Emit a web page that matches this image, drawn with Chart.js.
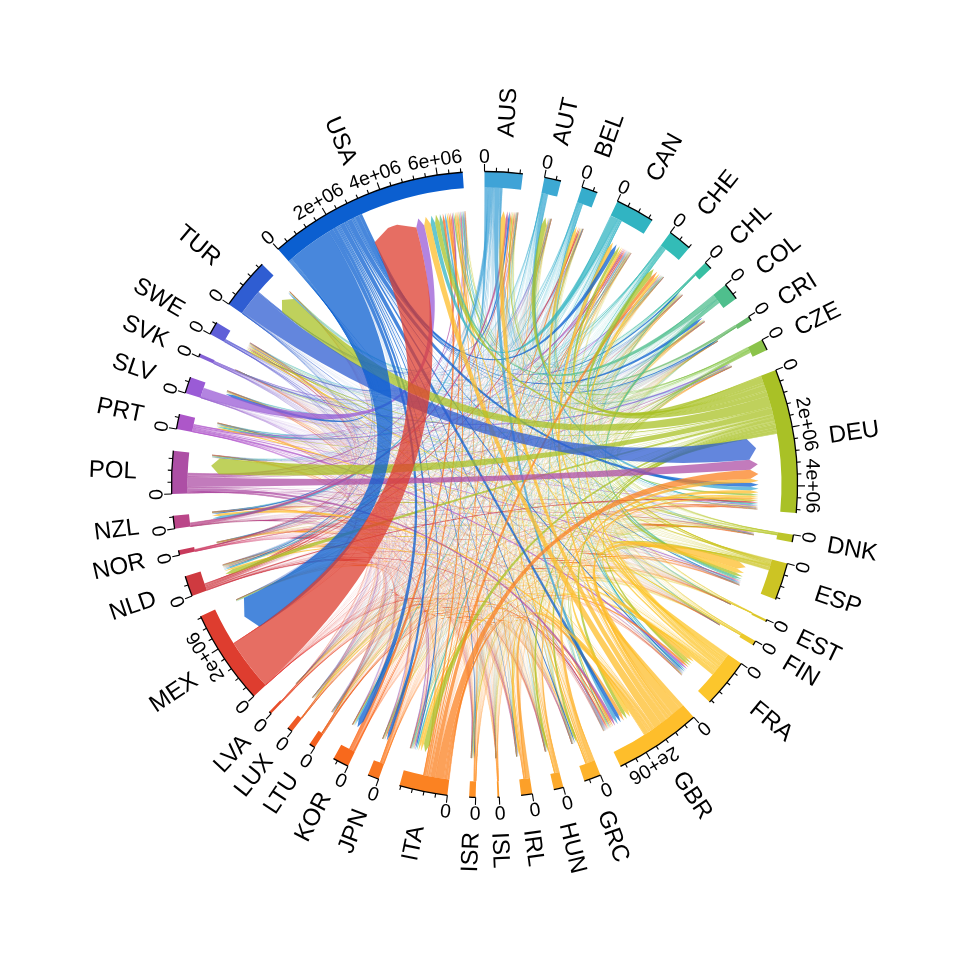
<!DOCTYPE html>
<html>
<head>
<meta charset="utf-8">
<title>Chord diagram</title>
<style>html,body{margin:0;padding:0;background:#fff}canvas{display:block}</style>
<script src="https://cdn.jsdelivr.net/npm/chart.js@4/dist/chart.umd.js"></script>
</head>
<body>
<canvas id="c" width="969" height="969"></canvas>
<script>
const categories = ['AUS','AUT','BEL','CAN','CHE','CHL','COL','CRI','CZE','DEU','DNK','ESP','EST','FIN','FRA','GBR','GRC','HUN','IRL','ISL','ISR','ITA','JPN','KOR','LTU','LUX','LVA','MEX','NLD','NOR','NZL','POL','PRT','SLV','SVK','SWE','TUR','USA'];
const sectorColors = ['#3FA3D7','#3DA9D3','#36ADCC','#31B4C2','#33BCB7','#38BFA3','#4FBF8D','#6DBE70','#8BC34A','#A9C126','#BDC52A','#CCC424','#DCC72A','#ECC92B','#FCC62C','#FEBE2B','#FDB32B','#FCA92B','#FCA029','#FC9929','#FD9027','#FB8222','#F97720','#F8691C','#F25F1E','#EE5A26','#E84D2A','#DE3D2F','#CF3A40','#C83A5C','#BA4689','#AD4FA5','#AD57C9','#9A5BD6','#8461D6','#5F5FD8','#2F5DD2','#0B5FD0'];
// thousands of people, read from the ring
const outTotals = [640,240,220,440,220,75,350,90,220,2140,110,400,37,90,915,1740,340,183,220,37,75,935,145,220,75,37,46,1885,255,75,130,730,275,365,90,110,970,3110];
const inTotals  = [660,330,330,900,600,200,240,75,165,2780,145,880,40,75,770,1245,240,150,165,25,145,715,240,330,130,145,45,1370,455,90,310,735,240,200,30,345,790,3755];
const tickStep = 400, majorStep = 2000;
const tickLabels = ['0','2e+06','4e+06','6e+06'];
// source row -> destination column, same order as categories
const flows = [
[0,3,3,16,6,3,1,.5,1,18,2,6,.5,1,12,125,10,1,9,.5,5,8,10,18,.5,1,.5,3,8,2,90,2,3,.5,.5,4,6,80],
[5,0,2,6,22,1,1,.5,3,125,1,4,.5,1,3,10,1,2,1,.5,3,3,1,1,.5,1,.5,1,2,1,1,2,1,.5,1,3,6,22],
[3,1,0,7,8,1,1,.5,1,24,1,30,.5,1,70,12,2,1,1,.5,6,5,1,1,.5,8,.5,2,28,1,1,2,3,.5,.5,2,5,18],
[14,1,2,0,5,2,1,1,1,5,1,3,.5,1,14,30,4,1,2,.5,8,5,5,18,.5,.5,.5,12,2,1,3,3,6,1,.5,1,3,190],
[4,6,3,4,0,1,1,.5,1,38,1,14,.5,1,50,8,1,1,1,.5,4,28,1,1,.5,1,.5,1,2,1,1,1,25,.5,.5,1,5,22],
[5,1,1,6,3,0,2,1,.3,4,1,14,.3,.3,4,2,.3,.3,.3,.2,1,1,.3,.3,.2,.2,.2,2,.5,1,1,.3,.3,.3,.2,8,.3,28],
[6,1,2,16,3,5,0,3,.3,3,.5,100,.2,.3,6,6,.3,.3,.3,.2,1,4,1,.5,.2,.2,.2,8,2,1,.5,.3,.5,.5,.2,2,.3,140],
[1,.5,.5,3,1,.5,1,0,.2,2,.2,2,.1,.2,1,1,.2,.2,.2,.1,.5,1,.2,.2,.1,.1,.1,3,.5,.2,.2,.2,.2,1,.1,.5,.2,60],
[5,28,2,7,10,.5,.5,.3,0,70,2,2,.3,1,4,30,1,1,4,.3,1,3,1,1,.3,1,.3,1,2,2,1,2,1,.3,28,3,1,22],
[50,210,25,80,260,5,2,3,25,0,22,120,1,4,100,130,60,50,10,1,25,110,10,10,2,15,1,8,100,12,8,240,22,1,5,35,430,190],
[4,1,1,3,3,.5,.5,.3,.5,18,0,5,.3,1,3,10,1,.5,1,1,1,1,.5,.5,.3,.3,.3,.5,2,13,1,2,.5,.3,.3,22,1,14],
[4,2,9,6,24,7,8,1,1,60,2,0,.5,1,110,50,1,1,3,.5,1,14,1,1,.5,2,.5,8,7,2,1,1,7,1,.5,4,1,42],
[1,.2,.2,1,.2,.1,.1,.1,.1,2,.2,.2,0,18,.2,3,.1,.1,1,.1,.1,.2,.1,.1,1,.1,1,.1,.2,1,.1,.2,.1,.1,.1,4,.1,2],
[1,1,.3,1,1,.2,.2,.1,.2,6,1,2,2,0,1,4,.3,.3,.5,.2,.3,.4,.3,.2,.2,.1,.2,.2,1,1,.3,.3,.2,.1,.1,38,.3,6],
[16,4,130,50,130,4,3,1,2,70,6,170,1,1,0,150,4,2,5,1,28,50,3,2,1,25,1,5,14,3,2,4,40,1,1,5,4,75],
[210,5,20,110,20,3,2,1,2,110,15,300,1,4,150,0,18,2,150,1,9,40,8,6,1,2,1,4,40,10,85,5,12,1,1,18,3,280],
[45,3,8,12,7,.5,.5,.3,1,140,1,1,.3,.5,6,25,0,1,.5,.2,.5,6,.5,.5,.3,2,.3,.5,5,2,1,1,.5,.3,.3,8,1,60],
[4,32,1,5,6,.3,.3,.2,1,62,1,1,.2,.5,2,20,.5,0,1,.2,3,2,.3,.3,.2,.3,.2,.3,2,1,.5,.5,.3,.2,2,3,.5,25],
[20,.5,1,4,1,.3,.3,.2,.3,3,1,1,.2,.3,3,130,.3,.3,0,.2,.3,1,.3,.3,.2,.2,.2,.3,1,.5,2,.5,.3,.2,.2,1,.3,32],
[1,.1,.1,1,.1,.1,.1,.1,.1,2,8,.2,.1,.3,.2,1,.1,.1,.2,0,.1,.1,.1,.1,.1,.1,.1,.1,.2,5,.1,.2,.1,.1,.1,7,.1,6],
[2,.3,1,5,1,.2,.2,.1,.2,5,.2,.3,.1,.2,6,3,.2,.2,.2,.1,0,1,.2,.2,.1,.1,.1,.3,1,.2,.2,.3,.2,.1,.1,1,.2,40],
[55,12,55,32,170,3,3,1,2,310,2,30,1,1,100,60,5,1,1,1,3,0,1,1,1,8,1,1,6,1,1,1,1,1,1,4,1,75],
[9,1,1,5,2,.3,.3,.2,.3,7,.3,1,.2,.3,3,7,.3,.3,.3,.1,.3,1,0,3,.1,.1,.1,.5,1,.3,2,.3,.3,.2,.1,1,.3,65],
[9,.5,.5,22,.5,.3,.3,.2,.3,5,1,.5,.1,.3,1,2,.3,.3,.3,.1,.3,.5,35,0,.1,.1,.1,.5,1,1,4,.3,.3,.2,.1,1,.3,100],
[1,.3,1,.5,.3,.1,.1,.1,.2,8,1,2,.2,.3,.5,38,.2,.2,6,.2,3,1,.2,.2,0,.1,1,.2,1,8,.2,1,.2,.1,.1,2,.2,3],
[.2,1,6,.3,2,.1,.1,.1,.1,8,.2,1,.1,.1,9,1,.1,.1,.1,.1,.2,1,.1,.1,.1,0,.1,.1,2,.2,.1,.2,1,.1,.1,.2,.1,2],
[1,.2,.2,1,.2,.1,.1,.1,.1,4,.3,1,2,1,.2,22,.1,.1,4,.1,1,.2,.1,.1,1,.1,0,.1,.3,2,.1,.2,.1,.1,.1,1,.1,3],
[1,1,1,7,1,1,1,1,1,3,1,6,1,1,2,1,1,1,1,1,1,1,1,1,1,1,1,0,1,1,1,1,1,1,1,1,1,1860],
[26,3,55,28,6,1,1,.5,1,55,3,8,.5,1,6,22,1,1,1,.5,3,1,1,1,.5,1,.5,1,0,2,8,1,1,.5,.5,3,2,24],
[1,.3,.3,1,1,.2,.2,.1,.2,3,14,2,.2,1,1,4,.2,.2,.3,.2,.2,.3,.2,.2,.2,.1,.2,.2,1,0,.3,.3,.2,.1,.1,24,.2,8],
[100,.3,.3,3,.3,.3,.2,.1,.2,1,.2,.3,.1,.2,.5,10,.2,.2,1,.1,.2,.3,1,.3,.1,.1,.1,.2,.5,.3,0,.2,.2,.1,.1,.5,.2,8],
[7,14,8,30,2,1,1,.5,8,340,5,12,1,1,22,100,5,2,22,2,6,22,1,1,1,1,1,1,12,10,1,0,1,.5,1,8,1,65],
[2,1,3,20,45,.5,.5,.3,.5,22,.5,30,.3,.5,90,20,.5,.5,.5,.3,.5,2,.5,.5,.3,10,.3,.5,3,.5,.5,.5,0,.3,.3,1,.5,25],
[1,.3,.3,14,.3,.3,.3,2,.2,1,.2,1,.1,.2,.5,.5,.2,.2,.2,.1,.2,1,.2,.2,.1,.1,.1,2,.3,.2,.2,.2,.2,0,.1,.5,.2,340],
[.5,6,.5,1,1,.2,.2,.1,42,8,.3,1,.1,.2,.5,7,.2,2,1,.1,.3,1,.2,.2,.1,.1,.1,.2,.5,.3,.2,1,.2,.1,0,.5,.2,4],
[4,1,1,2,2,1,.3,.2,.3,8,11,4,.3,4,2,12,1,.5,.5,.3,1,1,.3,.3,.2,.2,.2,.3,1,15,1,1,.5,.3,.2,0,.5,20],
[5,15,3,3,4,.5,.5,.3,.5,720,3,1,.3,.5,15,4,1,.5,.5,.2,1,1,.5,.5,.2,.3,.2,.5,6,1,.5,.5,.5,.2,.2,3,0,20],
[80,4,8,110,20,15,35,30,5,135,5,25,1,1,55,130,30,3,25,2,35,25,90,125,1,1,1,1230,15,8,25,5,8,20,1,12,10,0]
];

const ringRadius = 313, ringInner = 297, tipRadius = 274, arrowBase = 266;
const gapDeg = 4, chordAlpha = 0.75, edgeAlpha = 0.07, chamferPx = 18, nameRadius = 348;
const sectorTotals = categories.map((_, i) => outTotals[i] + inTotals[i]);
const unitSum = sectorTotals.reduce((a, b) => a + b, 0);
const gapUnits = unitSum * gapDeg / (360 - categories.length * gapDeg);

function withAlpha(hex, a) {
  const n = parseInt(hex.slice(1), 16);
  return `rgba(${n >> 16},${(n >> 8) & 255},${n & 255},${a})`;
}

const chordPlugin = {
  id: 'chords',
  afterDatasetsDraw(chart) {
    const ctx = chart.ctx, arcs = chart.getDatasetMeta(0).data, n = categories.length;
    const cx = arcs[0].x, cy = arcs[0].y;
    const pt = (r, a) => [cx + r * Math.cos(a), cy + r * Math.sin(a)];
    const sector = i => arcs[i * 2];
    const perUnit = i => (sector(i).endAngle - sector(i).startAngle) / sectorTotals[i];

    const colSum = categories.map((_, j) => flows.reduce((s, row) => s + row[j], 0));
    const rowSum = flows.map(row => row.reduce((a, b) => a + b, 0));
    const src = {}, dst = {};
    for (let i = 0; i < n; i++) {
      let a = sector(i).startAngle, k = perUnit(i);
      const targets = categories.map((_, j) => j).filter(j => flows[i][j] > 0)
        .sort((p, q) => ((i - p + n) % n) - ((i - q + n) % n));
      for (const j of targets) {
        const w = flows[i][j] / rowSum[i] * outTotals[i] * k;
        src[i + '_' + j] = [a, a + w];
        a += w;
      }
      const sources = categories.map((_, j) => j).filter(j => flows[j][i] > 0)
        .sort((p, q) => flows[q][i] - flows[p][i]);
      for (const j of sources) {
        const w = flows[j][i] / colSum[i] * inTotals[i] * k;
        dst[j + '_' + i] = [a, a + w];
        a += w;
      }
    }
    const order = Object.keys(src).sort((p, q) => {
      const [a, b] = p.split('_'), [c, d] = q.split('_');
      return flows[a][b] - flows[c][d];
    });
    ctx.save();
    for (const key of order) {
      const i = +key.split('_')[0];
      const [a1, a2] = src[key], [b1, b2] = dst[key];
      const d = Math.min((b2 - b1) / 2, chamferPx / tipRadius);
      ctx.beginPath();
      ctx.moveTo(...pt(ringInner, a1));
      ctx.arc(cx, cy, ringInner, a1, a2);
      ctx.quadraticCurveTo(cx, cy, ...pt(arrowBase, b1));
      ctx.lineTo(...pt(tipRadius, b1 + d));
      if (b2 - d > b1 + d) ctx.arc(cx, cy, tipRadius, b1 + d, b2 - d);
      ctx.lineTo(...pt(arrowBase, b2));
      ctx.quadraticCurveTo(cx, cy, ...pt(ringInner, a1));
      ctx.closePath();
      ctx.fillStyle = withAlpha(sectorColors[i], chordAlpha);
      ctx.fill();
      ctx.strokeStyle = withAlpha(sectorColors[i], edgeAlpha);
      ctx.lineWidth = 0.6;
      ctx.stroke();
    }
    // axes and labels
    ctx.strokeStyle = '#000';
    ctx.fillStyle = '#000';
    for (let i = 0; i < n; i++) {
      const s = sector(i), k = perUnit(i);
      ctx.lineWidth = 1.3;
      ctx.beginPath();
      ctx.arc(cx, cy, ringRadius, s.startAngle, s.endAngle);
      ctx.stroke();
      for (let v = 0; v <= sectorTotals[i]; v += tickStep) {
        const a = s.startAngle + v * k, major = v % majorStep === 0;
        ctx.lineWidth = 1.1;
        ctx.beginPath();
        ctx.moveTo(...pt(ringRadius, a));
        ctx.lineTo(...pt(ringRadius + (major ? 7.5 : 4), a));
        ctx.stroke();
        if (major) {
          ctx.save();
          ctx.translate(...pt(ringRadius + 9, a));
          ctx.rotate(a + Math.PI / 2);
          ctx.font = '19.5px "Liberation Sans"';
          ctx.textAlign = 'center';
          ctx.textBaseline = 'alphabetic';
          ctx.fillText(tickLabels[v / majorStep], 0, 0);
          ctx.restore();
        }
      }
      const mid = (s.startAngle + s.endAngle) / 2;
      const clockDeg = (mid + Math.PI / 2) * 180 / Math.PI;
      ctx.save();
      ctx.translate(...pt(nameRadius, mid));
      ctx.font = '24px "Liberation Sans"';
      ctx.textBaseline = 'middle';
      if (clockDeg < 180) { ctx.rotate(mid); ctx.textAlign = 'left'; }
      else { ctx.rotate(mid + Math.PI); ctx.textAlign = 'right'; }
      ctx.fillText(categories[i], 0, 1);
      ctx.restore();
    }
    ctx.restore();
  }
};

const ringLabels = [], ringData = [], ringColors = [];
categories.forEach((c, i) => {
  ringLabels.push(c, '');
  ringData.push(sectorTotals[i], gapUnits);
  ringColors.push(sectorColors[i], 'rgba(0,0,0,0)');
});

new Chart(document.getElementById('c'), {
  type: 'doughnut',
  data: { labels: ringLabels, datasets: [{ data: ringData, backgroundColor: ringColors, borderWidth: 0 }] },
  options: {
    responsive: false, animation: false, rotation: 0, circumference: 360,
    radius: ringRadius, cutout: (ringInner / ringRadius * 100) + '%',
    layout: { padding: 0 },
    plugins: { legend: { display: false }, tooltip: { enabled: false } }
  },
  plugins: [chordPlugin]
});
</script>
</body>
</html>
